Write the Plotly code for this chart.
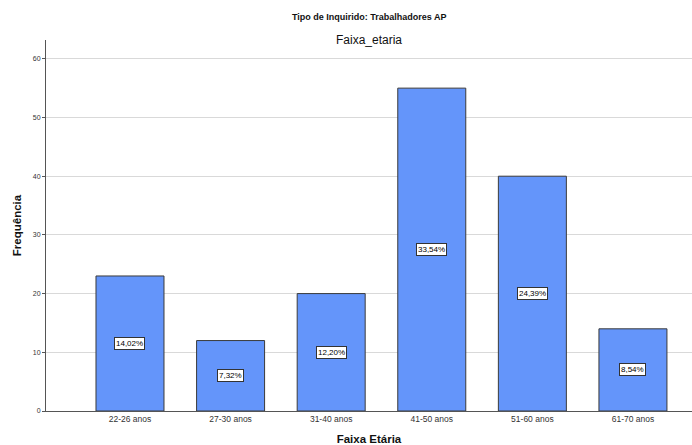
import plotly.graph_objects as go

# Age-group frequencies for "Trabalhadores AP"
categories = ["22-26 anos", "27-30 anos", "31-40 anos", "41-50 anos", "51-60 anos", "61-70 anos"]
counts = [23, 12, 20, 55, 40, 14]
y_ticks = [0, 10, 20, 30, 40, 50, 60]

total = sum(counts)
positions = list(range(len(categories)))
pct_labels = [f"{c / total * 100:.2f}%".replace(".", ",") for c in counts]

fig = go.Figure()
fig.add_trace(go.Bar(
    x=positions,
    y=counts,
    width=0.676,
    marker=dict(color="#6495FA", line=dict(color="#3a3a3a", width=1)),
    hoverinfo="skip",
))

# Percentage labels boxed at the middle of each bar
for xi, c, lab in zip(positions, counts, pct_labels):
    fig.add_annotation(
        x=xi, y=c / 2, text=lab, showarrow=False,
        font=dict(family="Arial, Liberation Sans", size=8, color="#000"),
        bgcolor="white", bordercolor="#333", borderwidth=1, borderpad=1,
    )

# Top caption
fig.add_annotation(
    xref="paper", yref="paper", x=0.5, y=1 + (40 - 17) / (445 - 40 - 34),
    xanchor="center", yanchor="middle",
    text="<b>Tipo de Inquirido: Trabalhadores AP</b>", showarrow=False,
    font=dict(family="Liberation Sans Narrow, Arial Narrow, Arial", size=9, color="#111"),
)

fig.update_layout(
    width=692, height=445,
    margin=dict(l=46, r=0, t=40, b=34),
    paper_bgcolor="white", plot_bgcolor="white",
    showlegend=False,
    font=dict(family="Arial, Liberation Sans", size=8, color="#222"),
    title=dict(
        text="Faixa_etaria", x=0.5, xanchor="center", xref="paper",
        y=1 - 40 / 445, yanchor="middle",
        font=dict(family="Arial, Liberation Sans", size=12, color="#111"),
    ),
    xaxis=dict(
        range=[-0.835, 5.587], automargin=False,
        tickmode="array", tickvals=positions, ticktext=categories,
        showgrid=False, zeroline=False,
        showline=True, linecolor="#555", linewidth=1,
        ticks="", tickfont=dict(size=8.5, color="#333"),
        title=dict(text="<b>Faixa Etária</b>", font=dict(size=11.5, color="#111"), standoff=15),
    ),
    yaxis=dict(
        range=[0, 63.2], automargin=False,
        tickmode="array", tickvals=y_ticks,
        showgrid=True, gridcolor="#d9d9d9", gridwidth=1,
        zeroline=False,
        showline=True, linecolor="#555", linewidth=1,
        ticks="outside", ticklen=3, tickcolor="#555",
        tickfont=dict(size=7, color="#333"),
        title=dict(text="<b>Frequência</b>", font=dict(size=11.5, color="#111"), standoff=8),
    ),
)

fig.write_html("out.html")
